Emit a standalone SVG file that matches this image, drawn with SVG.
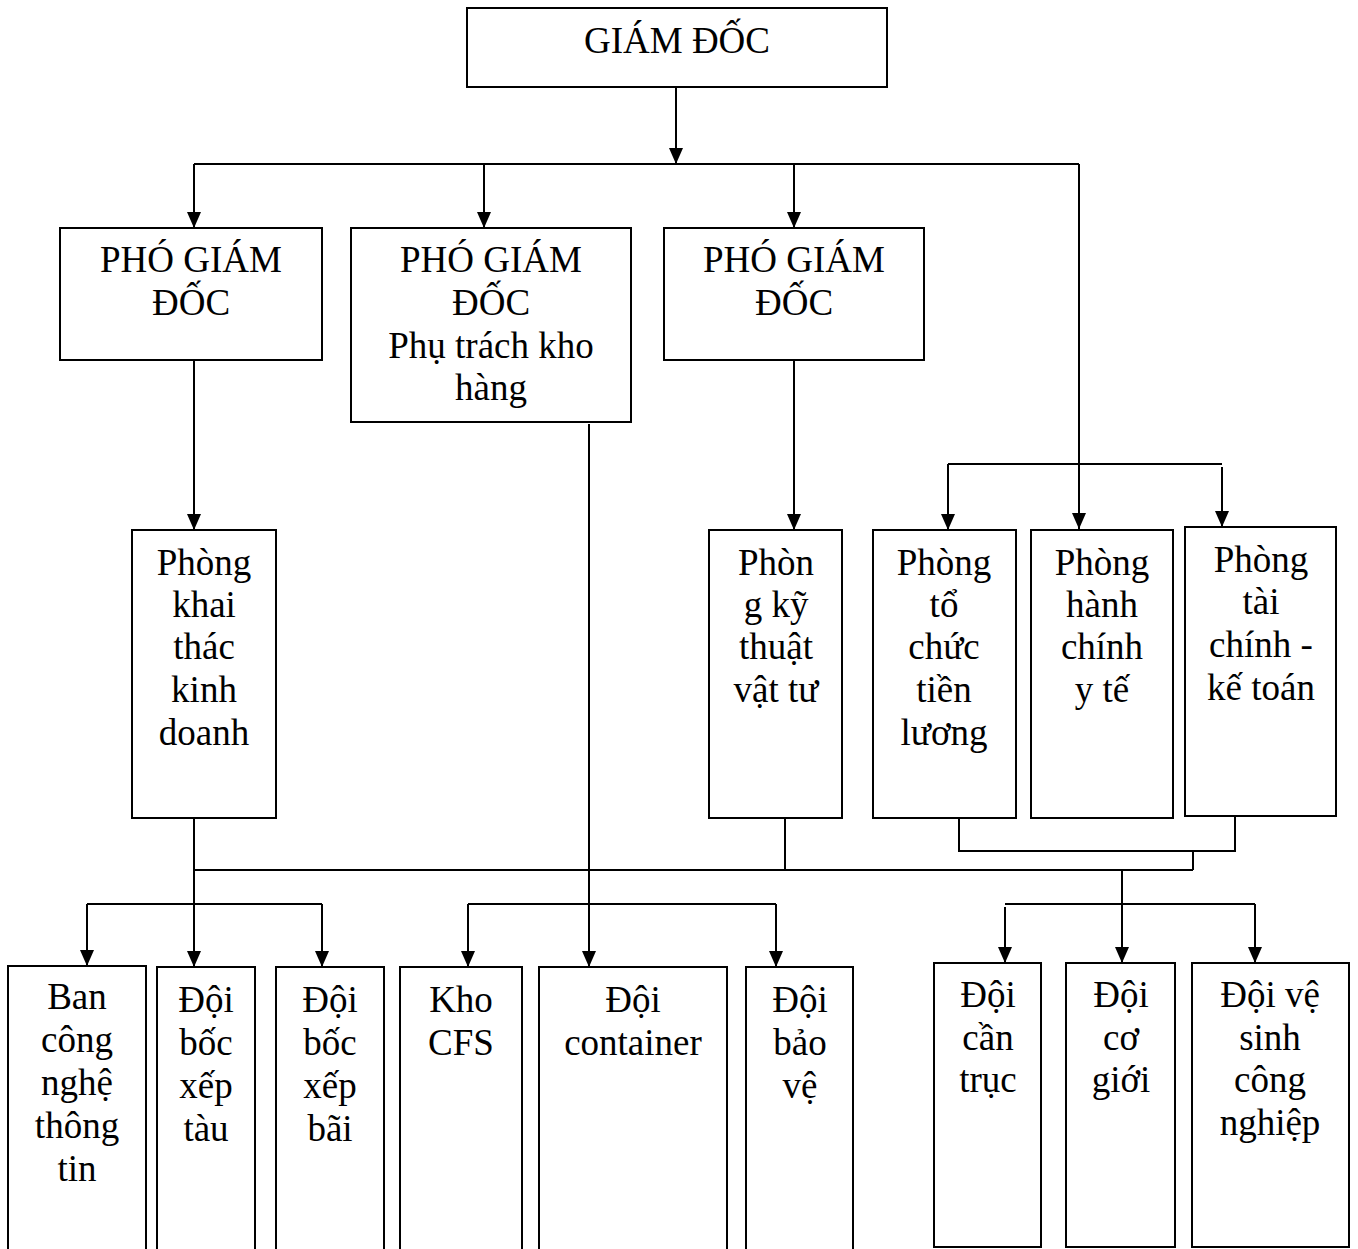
<svg xmlns="http://www.w3.org/2000/svg" width="1358" height="1249" viewBox="0 0 1358 1249">
<style>
.b{fill:#fff;stroke:#000;stroke-width:2}
.t{font-family:"Liberation Serif","Times New Roman",serif;font-size:37px;fill:#000;text-anchor:middle}
.c{fill:none;stroke:#000;stroke-width:2}
.a{marker-end:url(#ah)}
</style>
<defs>
<marker id="ah" markerUnits="userSpaceOnUse" markerWidth="16" markerHeight="14" refX="16" refY="7" orient="auto">
<path d="M0,0 L16,7 L0,14 Z" fill="#000"/>
</marker>
</defs>
<rect width="1358" height="1249" fill="#fff"/>
<g id="connectors">
<path class="c a" d="M676,87 V164"/>
<path class="c" d="M194,164 H1079"/>
<path class="c a" d="M194,164 V228"/>
<path class="c a" d="M484,164 V228"/>
<path class="c a" d="M794,164 V228"/>
<path class="c a" d="M1079,164 V529"/>
<path class="c a" d="M194,360 V530"/>
<path class="c a" d="M794,360 V530"/>
<path class="c" d="M948,464 H1222"/>
<path class="c a" d="M948,464 V530"/>
<path class="c a" d="M1222,467 V527"/>
<path class="c a" d="M589,424 V967"/>
<path class="c" d="M785,818 V870"/>
<path class="c" d="M959,818 V851 H1235 V816"/>
<path class="c" d="M1193,851 V870"/>
<path class="c" d="M194,870 H1193"/>
<path class="c a" d="M194,818 V967"/>
<path class="c a" d="M1122,870 V963"/>
<path class="c" d="M87,904 H322"/>
<path class="c a" d="M87,904 V966"/>
<path class="c a" d="M322,904 V967"/>
<path class="c" d="M468,904 H776"/>
<path class="c a" d="M468,904 V967"/>
<path class="c a" d="M776,904 V967"/>
<path class="c" d="M1005,904 H1255"/>
<path class="c a" d="M1005,907 V963"/>
<path class="c a" d="M1255,904 V963"/>
</g>
<g id="giam-doc"><rect class="b" x="467" y="8" width="420" height="79"/><text class="t" x="677" y="53">GIÁM ĐỐC</text></g>
<g id="pgd1"><rect class="b" x="60" y="228" width="262" height="132"/><text class="t" x="191" y="272">PHÓ GIÁM</text><text class="t" x="191" y="315">ĐỐC</text></g>
<g id="pgd2"><rect class="b" x="351" y="228" width="280" height="194"/><text class="t" x="491" y="272">PHÓ GIÁM</text><text class="t" x="491" y="315">ĐỐC</text><text class="t" x="491" y="358">Phụ trách kho</text><text class="t" x="491" y="400">hàng</text></g>
<g id="pgd3"><rect class="b" x="664" y="228" width="260" height="132"/><text class="t" x="794" y="272">PHÓ GIÁM</text><text class="t" x="794" y="315">ĐỐC</text></g>
<g id="p-khai-thac"><rect class="b" x="132" y="530" width="144" height="288"/><text class="t" x="204" y="575">Phòng</text><text class="t" x="204" y="617">khai</text><text class="t" x="204" y="659">thác</text><text class="t" x="204" y="702">kinh</text><text class="t" x="204" y="745">doanh</text></g>
<g id="p-ky-thuat"><rect class="b" x="709" y="530" width="133" height="288"/><text class="t" x="776" y="575">Phòn</text><text class="t" x="776" y="617">g kỹ</text><text class="t" x="776" y="659">thuật</text><text class="t" x="776" y="702">vật tư</text></g>
<g id="p-to-chuc"><rect class="b" x="873" y="530" width="143" height="288"/><text class="t" x="944" y="575">Phòng</text><text class="t" x="944" y="617">tổ</text><text class="t" x="944" y="659">chức</text><text class="t" x="944" y="702">tiền</text><text class="t" x="944" y="745">lương</text></g>
<g id="p-hanh-chinh"><rect class="b" x="1031" y="530" width="142" height="288"/><text class="t" x="1102" y="575">Phòng</text><text class="t" x="1102" y="617">hành</text><text class="t" x="1102" y="659">chính</text><text class="t" x="1102" y="702">y tế</text></g>
<g id="p-tai-chinh"><rect class="b" x="1185" y="527" width="151" height="289"/><text class="t" x="1261" y="572">Phòng</text><text class="t" x="1261" y="614">tài</text><text class="t" x="1261" y="657">chính -</text><text class="t" x="1261" y="700">kế toán</text></g>
<g id="ban-cntt"><rect class="b" x="8" y="966" width="138" height="300"/><text class="t" x="77" y="1009">Ban</text><text class="t" x="77" y="1052">công</text><text class="t" x="77" y="1095">nghệ</text><text class="t" x="77" y="1138">thông</text><text class="t" x="77" y="1181">tin</text></g>
<g id="doi-bx-tau"><rect class="b" x="157" y="967" width="98" height="300"/><text class="t" x="206" y="1012">Đội</text><text class="t" x="206" y="1055">bốc</text><text class="t" x="206" y="1098">xếp</text><text class="t" x="206" y="1141">tàu</text></g>
<g id="doi-bx-bai"><rect class="b" x="276" y="967" width="108" height="300"/><text class="t" x="330" y="1012">Đội</text><text class="t" x="330" y="1055">bốc</text><text class="t" x="330" y="1098">xếp</text><text class="t" x="330" y="1141">bãi</text></g>
<g id="kho-cfs"><rect class="b" x="400" y="967" width="122" height="300"/><text class="t" x="461" y="1012">Kho</text><text class="t" x="461" y="1055">CFS</text></g>
<g id="doi-container"><rect class="b" x="539" y="967" width="188" height="300"/><text class="t" x="633" y="1012">Đội</text><text class="t" x="633" y="1055">container</text></g>
<g id="doi-bao-ve"><rect class="b" x="746" y="967" width="107" height="300"/><text class="t" x="800" y="1012">Đội</text><text class="t" x="800" y="1055">bảo</text><text class="t" x="800" y="1098">vệ</text></g>
<g id="doi-can-truc"><rect class="b" x="934" y="963" width="107" height="284"/><text class="t" x="988" y="1007">Đội</text><text class="t" x="988" y="1050">cần</text><text class="t" x="988" y="1092">trục</text></g>
<g id="doi-co-gioi"><rect class="b" x="1066" y="963" width="109" height="284"/><text class="t" x="1121" y="1007">Đội</text><text class="t" x="1121" y="1050">cơ</text><text class="t" x="1121" y="1092">giới</text></g>
<g id="doi-ve-sinh"><rect class="b" x="1192" y="963" width="157" height="284"/><text class="t" x="1270" y="1007">Đội vệ</text><text class="t" x="1270" y="1050">sinh</text><text class="t" x="1270" y="1092">công</text><text class="t" x="1270" y="1135">nghiệp</text></g>
</svg>
